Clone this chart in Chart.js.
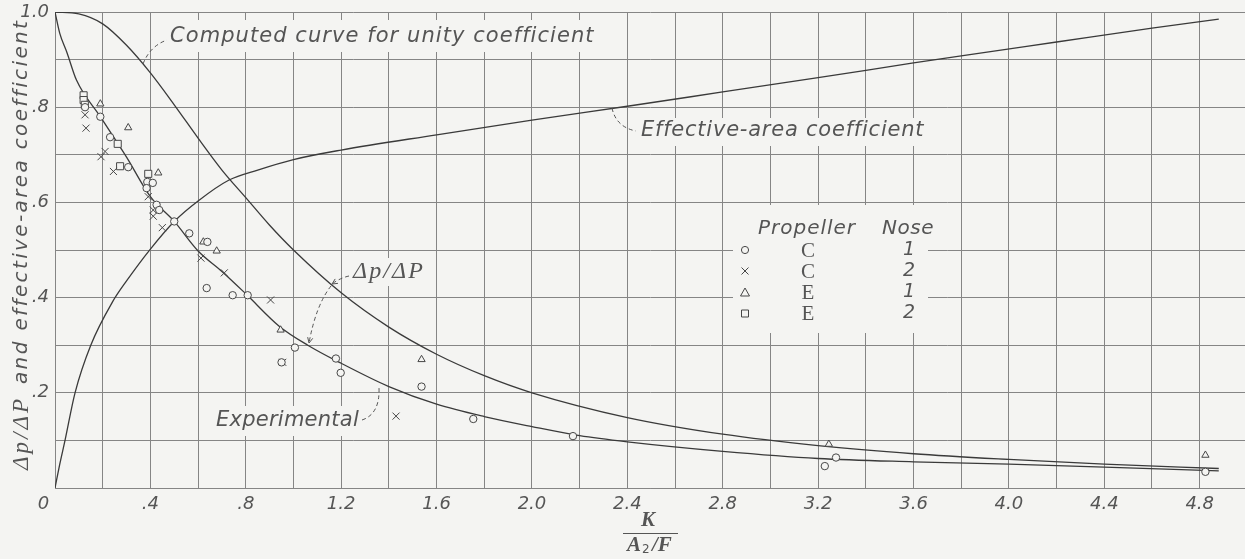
<!DOCTYPE html>
<html>
<head>
<meta charset="UTF-8">
<title>Pressure ratio and effective-area coefficient</title>
<script src="https://cdn.jsdelivr.net/npm/chart.js@4.4.1/dist/chart.umd.min.js"></script>
<style>
  html, body { margin: 0; padding: 0; background: #f4f4f2; }
  #wrap { width: 1245px; height: 559px; position: relative; }
</style>
</head>
<body>
<div id="wrap"><canvas id="chart"></canvas></div>
<script>
// x axis: K / (A2/F), y axis: dp/dP and effective-area coefficient

// computed curve for unity coefficient
const computedX = [0, 0.1, 0.2, 0.3, 0.4, 0.5, 0.6, 0.7, 0.8, 0.9, 1.0, 1.2, 1.4, 1.6, 1.8, 2.0, 2.4, 2.8, 3.2, 3.6, 4.0, 4.4, 4.88];
const computedY = [1.0, 0.996, 0.975, 0.93, 0.872, 0.805, 0.735, 0.668, 0.61, 0.552, 0.5, 0.41, 0.338, 0.281, 0.236, 0.2, 0.148, 0.113, 0.089, 0.072, 0.06, 0.05, 0.041];

// experimental dp/dP curve
const experimentalX = [0, 0.02, 0.05, 0.09, 0.19, 0.3, 0.4, 0.5, 0.6, 0.7, 0.8, 0.94, 1.06, 1.2, 1.4, 1.6, 1.8, 2.0, 2.2, 2.4, 2.8, 3.2, 3.6, 4.0, 4.4, 4.88];
const experimentalY = [1.0, 0.955, 0.915, 0.857, 0.78, 0.695, 0.612, 0.56, 0.498, 0.455, 0.408, 0.34, 0.3, 0.262, 0.213, 0.176, 0.15, 0.129, 0.11, 0.097, 0.077, 0.062, 0.055, 0.05, 0.044, 0.036];

// effective-area coefficient
const effectiveX = [0, 0.02, 0.042, 0.084, 0.15, 0.24, 0.3, 0.4, 0.5, 0.6, 0.73, 0.85, 1.0, 1.2, 1.6, 2.0, 2.4, 2.8, 3.2, 3.6, 3.8, 4.2, 4.6, 4.88];
const effectiveY = [0, 0.05, 0.1, 0.2, 0.3, 0.39, 0.435, 0.502, 0.56, 0.603, 0.647, 0.668, 0.69, 0.71, 0.742, 0.773, 0.802, 0.832, 0.862, 0.893, 0.908, 0.937, 0.966, 0.985];

// test points: propeller C nose 1 (circles)
const propC1X = [0.126, 0.19, 0.231, 0.307, 0.387, 0.41, 0.384, 0.426, 0.437, 0.50, 0.563, 0.639, 0.636, 0.745, 0.808, 0.95, 1.006, 1.178, 1.198, 1.537, 1.754, 2.172, 3.228, 3.275, 4.824];
const propC1Y = [0.80, 0.78, 0.737, 0.674, 0.643, 0.641, 0.63, 0.595, 0.584, 0.56, 0.535, 0.517, 0.42, 0.405, 0.405, 0.264, 0.295, 0.272, 0.242, 0.213, 0.145, 0.109, 0.046, 0.064, 0.034];

// propeller C nose 2 (crosses)
const propC2X = [0.126, 0.13, 0.21, 0.193, 0.245, 0.391, 0.412, 0.412, 0.45, 0.612, 0.71, 0.904, 0.955, 1.43];
const propC2Y = [0.784, 0.756, 0.707, 0.696, 0.665, 0.612, 0.584, 0.571, 0.547, 0.483, 0.452, 0.395, 0.264, 0.151];

// propeller E nose 1 (triangles)
const propE1X = [0.19, 0.307, 0.433, 0.622, 0.678, 0.946, 1.537, 3.245, 4.824];
const propE1Y = [0.807, 0.757, 0.662, 0.517, 0.498, 0.332, 0.27, 0.092, 0.069];

// propeller E nose 2 (squares)
const propE2X = [0.12, 0.12, 0.125, 0.263, 0.273, 0.391];
const propE2Y = [0.825, 0.815, 0.805, 0.723, 0.676, 0.66];

const legendRows = [
    ['circle', 'C', '1'],
    ['cross', 'C', '2'],
    ['triangle', 'E', '1'],
    ['square', 'E', '2']
];

const BG = '#f4f4f2';
const INK = '#3a3a3a';
const MARK = '#474747';
const TXT = '#555555';
const GRID = '#858585';
const SANS = '"DejaVu Sans"';
const SERIF = '"Liberation Serif"';

function pts(xs, ys) {
    return xs.map((x, i) => ({x: x, y: ys[i]}));
}

function curve(label, xs, ys) {
    return {
        label: label,
        data: pts(xs, ys),
        showLine: true,
        pointRadius: 0,
        borderColor: INK,
        borderWidth: 1.3,
        cubicInterpolationMode: 'monotone',
        fill: false,
        order: 2
    };
}

function marks(label, xs, ys, style, r) {
    return {
        label: label,
        data: pts(xs, ys),
        showLine: false,
        pointStyle: style,
        pointRadius: r,
        pointBorderColor: MARK,
        pointBackgroundColor: BG,
        pointBorderWidth: 1,
        order: 1
    };
}

function xLabel(v) {
    let t = Math.round(v * 10);
    if (t % 4 !== 0) return '';
    if (t === 0) return '0    ';
    if (t < 10) return '.' + t;
    return (t / 10).toFixed(1);
}

function yLabel(v) {
    let t = Math.round(v * 10);
    if (t === 0 || t % 2 !== 0) return '';
    if (t === 10) return '1.0';
    return '.' + t;
}

// draws text stretched or squeezed with letter spacing to a given width
function spaced(c, text, x, y, width) {
    c.textAlign = 'left';
    c.textBaseline = 'middle';
    let w0 = c.measureText(text).width;
    if ('letterSpacing' in c) {
        c.letterSpacing = ((width - w0) / text.length) + 'px';
        c.fillText(text, x, y);
        c.letterSpacing = '0px';
    } else {
        c.fillText(text, x, y);
    }
}

function dashed(c, x0, y0, cx, cy, x1, y1) {
    c.save();
    c.setLineDash([4, 3]);
    c.strokeStyle = '#555';
    c.lineWidth = 1;
    c.beginPath();
    c.moveTo(x0, y0);
    c.quadraticCurveTo(cx, cy, x1, y1);
    c.stroke();
    c.restore();
}

function arrowHead(c, x, y, fromX, fromY) {
    let a = Math.atan2(y - fromY, x - fromX);
    c.save();
    c.strokeStyle = '#555';
    c.lineWidth = 1;
    c.beginPath();
    c.moveTo(x - 6 * Math.cos(a - 0.45), y - 6 * Math.sin(a - 0.45));
    c.lineTo(x, y);
    c.lineTo(x - 6 * Math.cos(a + 0.45), y - 6 * Math.sin(a + 0.45));
    c.stroke();
    c.restore();
}

function symbol(c, kind, x, y) {
    c.save();
    c.strokeStyle = MARK;
    c.lineWidth = 1;
    c.beginPath();
    if (kind === 'circle') {
        c.arc(x, y, 3.6, 0, Math.PI * 2);
    } else if (kind === 'cross') {
        c.moveTo(x - 3.5, y - 3.5); c.lineTo(x + 3.5, y + 3.5);
        c.moveTo(x + 3.5, y - 3.5); c.lineTo(x - 3.5, y + 3.5);
    } else if (kind === 'triangle') {
        c.moveTo(x, y - 4.5); c.lineTo(x + 4.5, y + 3.5); c.lineTo(x - 4.5, y + 3.5); c.closePath();
    } else {
        c.rect(x - 3.5, y - 3.5, 7, 7);
    }
    c.stroke();
    c.restore();
}

const notes = {
    id: 'notes',
    beforeDraw(chart) {
        let c = chart.ctx;
        c.save();
        c.fillStyle = BG;
        c.fillRect(0, 0, chart.width, chart.height);
        c.restore();
    },
    beforeDatasetsDraw(chart) {
        // grid is hidden behind lettering and the key
        let c = chart.ctx;
        c.save();
        c.fillStyle = BG;
        c.fillRect(163, 20, 440, 32);
        c.fillRect(634, 118, 296, 28);
        c.fillRect(344, 258, 86, 28);
        c.fillRect(210, 406, 156, 30);
        c.fillRect(733, 205, 195, 128);
        c.restore();
    },
    afterDatasetsDraw(chart) {
        let c = chart.ctx;
        c.save();
        c.fillStyle = TXT;

        // curve notes
        c.font = 'italic 21px ' + SANS;
        spaced(c, 'Computed curve for unity coefficient', 170, 37, 425);
        dashed(c, 143, 64, 150, 46, 167, 40);

        spaced(c, 'Effective-area coefficient', 641, 131, 284);
        dashed(c, 612, 108, 616, 127, 636, 131);

        spaced(c, 'Experimental', 216, 421, 143);
        dashed(c, 362, 420, 380, 414, 379, 388);

        c.font = 'italic 24px ' + SERIF;
        spaced(c, 'Δp/ΔP', 353, 272, 72);
        dashed(c, 349, 276, 340, 278, 332, 284);
        arrowHead(c, 332, 284, 340, 279);
        dashed(c, 331, 286, 316, 305, 309, 343);
        arrowHead(c, 309, 343, 312, 330);

        // key
        c.font = 'italic 20px ' + SANS;
        spaced(c, 'Propeller', 758, 229, 98);
        spaced(c, 'Nose', 882, 229, 52);
        let rowY = [250, 271, 292.5, 313.5];
        legendRows.forEach((row, i) => {
            symbol(c, row[0], 745, rowY[i]);
            c.font = '21px ' + SERIF;
            c.textAlign = 'center';
            c.textBaseline = 'middle';
            c.fillText(row[1], 808, rowY[i] + 1);
            c.font = 'italic 19px ' + SANS;
            c.fillText(row[2], 909, rowY[i]);
        });

        // y axis title
        c.save();
        c.translate(22, 244);
        c.rotate(-Math.PI / 2);
        c.font = 'italic 23px ' + SERIF;
        spaced(c, 'Δp/ΔP', -226, 0, 74);
        c.font = 'italic 20px ' + SANS;
        spaced(c, 'and effective-area coefficient', -140, 0, 366);
        c.restore();

        // x axis title K / (A2/F)
        c.font = 'bold italic 21px ' + SERIF;
        c.textAlign = 'center';
        c.textBaseline = 'middle';
        c.fillText('K', 648, 521);
        c.strokeStyle = TXT;
        c.lineWidth = 1.2;
        c.beginPath();
        c.moveTo(623, 533.5);
        c.lineTo(678, 533.5);
        c.stroke();
        c.textAlign = 'left';
        c.fillText('A', 627, 546);
        let wA = c.measureText('A').width;
        c.font = '12px ' + SANS;
        c.fillText('2', 627 + wA + 1, 550);
        c.font = 'bold italic 21px ' + SERIF;
        c.fillText('/F', 627 + wA + 11, 546);

        c.restore();
    }
};

const ctx = document.getElementById('chart').getContext('2d');
const chart = new Chart(ctx, {
    type: 'scatter',
    data: {
        datasets: [
            curve('Computed curve for unity coefficient', computedX, computedY),
            curve('Experimental', experimentalX, experimentalY),
            curve('Effective-area coefficient', effectiveX, effectiveY),
            marks('Propeller C, nose 1', propC1X, propC1Y, 'circle', 3.7),
            marks('Propeller C, nose 2', propC2X, propC2Y, 'crossRot', 5),
            marks('Propeller E, nose 1', propE1X, propE1Y, 'triangle', 4.2),
            marks('Propeller E, nose 2', propE2X, propE2Y, 'rect', 5)
        ]
    },
    options: {
        responsive: true,
        maintainAspectRatio: false,
        animation: false,
        layout: { autoPadding: false, padding: { left: 0, right: 0, top: 12, bottom: 0 } },
        plugins: {
            legend: { display: false },
            tooltip: { enabled: false }
        },
        scales: {
            x: {
                type: 'linear',
                min: 0,
                max: 4.99,
                afterFit: function (s) {
                    s.height = 71;
                    s.paddingLeft = 0;
                    s.paddingRight = 0;
                },
                border: { display: true, color: GRID },
                grid: { color: GRID, lineWidth: 1, drawTicks: false },
                ticks: {
                    stepSize: 0.2,
                    includeBounds: false,
                    autoSkip: false,
                    maxRotation: 0,
                    padding: 6,
                    color: TXT,
                    font: { family: 'DejaVu Sans', style: 'italic', size: 18 },
                    callback: xLabel
                }
            },
            y: {
                min: 0,
                max: 1,
                afterFit: function (s) {
                    s.width = 55;
                    s.paddingTop = 0;
                    s.paddingBottom = 0;
                },
                border: { display: true, color: GRID },
                grid: { color: GRID, lineWidth: 1, drawTicks: false },
                ticks: {
                    stepSize: 0.1,
                    autoSkip: false,
                    padding: 6,
                    color: TXT,
                    font: { family: 'DejaVu Sans', style: 'italic', size: 18 },
                    callback: yLabel
                }
            }
        }
    },
    plugins: [notes]
});
</script>
</body>
</html>
